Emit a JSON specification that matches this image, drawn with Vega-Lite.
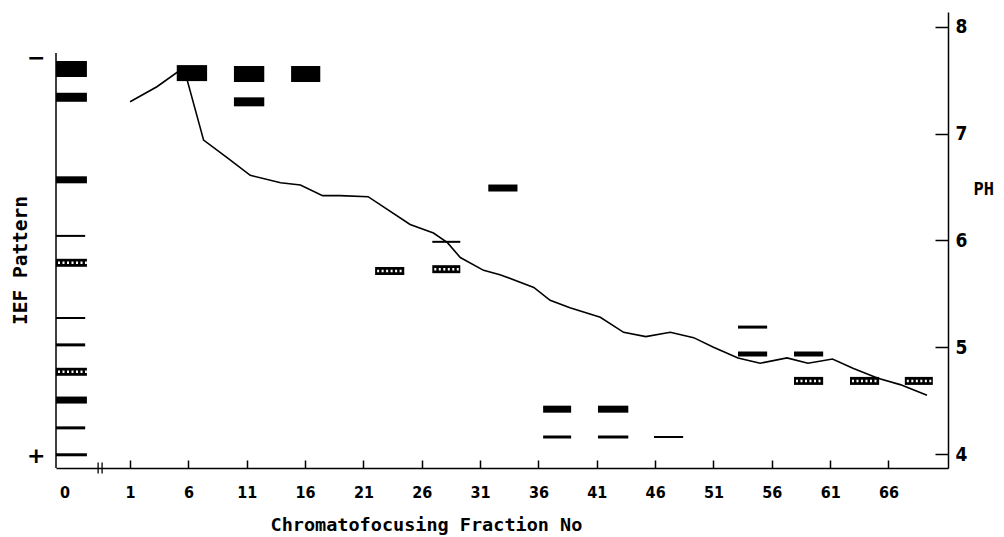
{
  "$schema": "https://vega.github.io/schema/vega-lite/v6.json",
  "width": 892,
  "height": 456,
  "autosize": {"type": "none"},
  "padding": {"left": 56, "top": 12, "right": 56, "bottom": 69},
  "background": "white",
  "config": {
    "view": {"stroke": null},
    "axis": {"domainColor": "black", "tickColor": "black", "labelColor": "black", "titleColor": "black", "grid": false, "domainWidth": 1.5, "tickWidth": 1.5},
    "axisX": {
      "tickSize": -8,
      "labelPadding": 24,
      "labelFont": "Liberation Sans Narrow, DejaVu Sans Condensed, sans-serif",
      "labelFontSize": 16,
      "labelFontWeight": "bold",
      "labelFlush": false,
      "labelOverlap": false,
      "labelBound": false,
      "titleFont": "DejaVu Sans Mono",
      "titleFontSize": 18.5,
      "titleFontWeight": "bold",
      "titleAnchor": "start",
      "titleAlign": "left",
      "titleX": 214,
      "titleY": 62,
      "titleBaseline": "alphabetic"
    }
  },
  "datasets": {
    "ph": [
      {"fraction": 1, "pH": 7.3}, {"fraction": 3.3, "pH": 7.44}, {"fraction": 5.6, "pH": 7.62}, {"fraction": 7.3, "pH": 6.94},
      {"fraction": 9.4, "pH": 6.77}, {"fraction": 11.3, "pH": 6.61}, {"fraction": 13.9, "pH": 6.54}, {"fraction": 15.6, "pH": 6.52},
      {"fraction": 17.5, "pH": 6.42}, {"fraction": 19, "pH": 6.42}, {"fraction": 21.4, "pH": 6.41}, {"fraction": 25, "pH": 6.15},
      {"fraction": 27, "pH": 6.07}, {"fraction": 28.2, "pH": 5.98}, {"fraction": 29.3, "pH": 5.84}, {"fraction": 31.3, "pH": 5.72},
      {"fraction": 32.7, "pH": 5.68}, {"fraction": 35.6, "pH": 5.56}, {"fraction": 37, "pH": 5.44}, {"fraction": 38.7, "pH": 5.37},
      {"fraction": 41.3, "pH": 5.28}, {"fraction": 43.3, "pH": 5.14}, {"fraction": 45.2, "pH": 5.1}, {"fraction": 47.3, "pH": 5.14},
      {"fraction": 49.3, "pH": 5.09}, {"fraction": 51, "pH": 5.0}, {"fraction": 53.1, "pH": 4.9}, {"fraction": 55, "pH": 4.85},
      {"fraction": 57.3, "pH": 4.9}, {"fraction": 59.1, "pH": 4.85}, {"fraction": 61.2, "pH": 4.89}, {"fraction": 63, "pH": 4.8},
      {"fraction": 65.1, "pH": 4.71}, {"fraction": 67, "pH": 4.65}, {"fraction": 69.3, "pH": 4.55}
    ],
    "bands": [
      {"fraction_start": -5.35, "fraction_end": -2.7, "gel_position": 87.5, "band": "heavy"},
      {"fraction_start": -5.35, "fraction_end": -2.7, "gel_position": 81.3, "band": "strong"},
      {"fraction_start": -5.35, "fraction_end": -2.7, "gel_position": 63.2, "band": "medium"},
      {"fraction_start": -5.35, "fraction_end": -2.85, "gel_position": 50.9, "band": "trace"},
      {"fraction_start": -5.35, "fraction_end": -2.7, "gel_position": 45.0, "band": "hatched"},
      {"fraction_start": -5.35, "fraction_end": -2.85, "gel_position": 32.9, "band": "trace"},
      {"fraction_start": -5.35, "fraction_end": -2.85, "gel_position": 27.0, "band": "faint"},
      {"fraction_start": -5.35, "fraction_end": -2.7, "gel_position": 21.1, "band": "hatched"},
      {"fraction_start": -5.35, "fraction_end": -2.7, "gel_position": 14.9, "band": "medium"},
      {"fraction_start": -5.35, "fraction_end": -2.85, "gel_position": 8.8, "band": "faint"},
      {"fraction_start": -5.35, "fraction_end": -2.7, "gel_position": 2.9, "band": "faint"},
      {"fraction_start": 5.0, "fraction_end": 7.6, "gel_position": 86.6, "band": "heavy"},
      {"fraction_start": 9.9, "fraction_end": 12.5, "gel_position": 86.4, "band": "heavy"},
      {"fraction_start": 9.9, "fraction_end": 12.5, "gel_position": 80.3, "band": "strong"},
      {"fraction_start": 14.8, "fraction_end": 17.3, "gel_position": 86.4, "band": "heavy"},
      {"fraction_start": 22.0, "fraction_end": 24.5, "gel_position": 43.2, "band": "hatched"},
      {"fraction_start": 26.9, "fraction_end": 29.3, "gel_position": 49.6, "band": "trace"},
      {"fraction_start": 26.9, "fraction_end": 29.3, "gel_position": 43.6, "band": "hatched"},
      {"fraction_start": 31.7, "fraction_end": 34.2, "gel_position": 61.4, "band": "medium"},
      {"fraction_start": 36.4, "fraction_end": 38.8, "gel_position": 12.9, "band": "medium"},
      {"fraction_start": 36.4, "fraction_end": 38.8, "gel_position": 6.8, "band": "faint"},
      {"fraction_start": 41.1, "fraction_end": 43.7, "gel_position": 12.9, "band": "medium"},
      {"fraction_start": 41.1, "fraction_end": 43.7, "gel_position": 6.8, "band": "faint"},
      {"fraction_start": 45.9, "fraction_end": 48.4, "gel_position": 6.8, "band": "trace"},
      {"fraction_start": 53.1, "fraction_end": 55.6, "gel_position": 30.9, "band": "faint"},
      {"fraction_start": 53.1, "fraction_end": 55.6, "gel_position": 25.0, "band": "narrow"},
      {"fraction_start": 57.9, "fraction_end": 60.4, "gel_position": 25.0, "band": "narrow"},
      {"fraction_start": 57.9, "fraction_end": 60.4, "gel_position": 19.1, "band": "hatched"},
      {"fraction_start": 62.7, "fraction_end": 65.2, "gel_position": 19.1, "band": "hatched"},
      {"fraction_start": 67.4, "fraction_end": 69.8, "gel_position": 19.1, "band": "hatched"}
    ],
    "axis_break": [{"fraction": -1.74}, {"fraction": -1.4}]
  },
  "layer": [
    {
      "data": {"name": "ph"},
      "mark": {"type": "line", "color": "black", "strokeWidth": 1.6},
      "encoding": {
        "x": {
          "field": "fraction", "type": "quantitative",
          "scale": {"domain": [-5.35, 71.1], "nice": false, "zero": false},
          "axis": {
            "title": "Chromatofocusing Fraction No",
            "values": [-4.62, 1, 6, 11, 16, 21, 26, 31, 36, 41, 46, 51, 56, 61, 66],
            "labelExpr": "datum.value < 0 ? '0' : datum.label",
            "tickColor": {"condition": {"test": "datum.value < 0", "value": "transparent"}, "value": "black"}
          }
        },
        "y": {
          "field": "pH", "type": "quantitative",
          "scale": {"domain": [3.869, 8.14], "nice": false, "zero": false},
          "axis": {
            "orient": "right",
            "values": [4, 5, 6, 7, 8],
            "tickSize": -13,
            "labelPadding": 20,
            "labelFont": "Liberation Sans Narrow, DejaVu Sans Condensed, sans-serif",
            "labelFontSize": 19,
            "labelFontWeight": "bold",
            "labelBaseline": "middle",
            "labelFlush": false,
            "title": "PH",
            "titleAngle": 0,
            "titleX": 25,
            "titleY": 177,
            "titleAlign": "left",
            "titleBaseline": "middle",
            "titleFont": "DejaVu Sans Mono",
            "titleFontSize": 17,
            "titleFontWeight": "bold"
          }
        }
      }
    },
    {
      "layer": [
        {
          "data": {"values": [{"fraction": -5.35}]},
          "mark": {"type": "rule", "color": "black", "strokeWidth": 1.5},
          "encoding": {
            "x": {
              "field": "fraction", "type": "quantitative",
              "axis": {
                "title": "Chromatofocusing Fraction No",
                "values": [-4.62, 1, 6, 11, 16, 21, 26, 31, 36, 41, 46, 51, 56, 61, 66],
                "labelExpr": "datum.value < 0 ? '0' : datum.label",
                "tickColor": {"condition": {"test": "datum.value < 0", "value": "transparent"}, "value": "black"}
              }
            },
            "y": {"datum": 0, "type": "quantitative"},
            "y2": {"datum": 91}
          }
        },
        {
          "data": {"name": "axis_break"},
          "mark": {"type": "rule", "color": "black", "strokeWidth": 1.3},
          "encoding": {
            "x": {
              "field": "fraction", "type": "quantitative",
              "axis": {
                "title": "Chromatofocusing Fraction No",
                "values": [-4.62, 1, 6, 11, 16, 21, 26, 31, 36, 41, 46, 51, 56, 61, 66],
                "labelExpr": "datum.value < 0 ? '0' : datum.label",
                "tickColor": {"condition": {"test": "datum.value < 0", "value": "transparent"}, "value": "black"}
              }
            },
            "y": {"datum": -1.2, "type": "quantitative"},
            "y2": {"datum": 1.2}
          }
        },
        {
          "data": {"name": "bands"},
          "mark": {"type": "rule", "color": "black", "strokeCap": "butt"},
          "encoding": {
            "x": {
              "field": "fraction_start", "type": "quantitative",
              "axis": {
                "title": "Chromatofocusing Fraction No",
                "values": [-4.62, 1, 6, 11, 16, 21, 26, 31, 36, 41, 46, 51, 56, 61, 66],
                "labelExpr": "datum.value < 0 ? '0' : datum.label",
                "tickColor": {"condition": {"test": "datum.value < 0", "value": "transparent"}, "value": "black"}
              }
            },
            "x2": {"field": "fraction_end"},
            "y": {
              "field": "gel_position", "type": "quantitative",
              "scale": {"domain": [0, 100], "nice": false, "zero": false},
              "axis": {
                "orient": "left",
                "values": [90.1, 2.85],
                "labelExpr": "datum.value > 50 ? '−' : '+'",
                "ticks": false,
                "domain": false,
                "labelPadding": 11,
                "labelFont": "DejaVu Sans",
                "labelFontSize": 22,
                "labelFontWeight": "bold",
                "labelBaseline": "middle",
                "labelFlush": false,
                "labelOverlap": false,
                "title": "IEF  Pattern",
                "titleFont": "DejaVu Sans Mono",
                "titleFontSize": 19.5,
                "titleFontWeight": "bold",
                "titleAngle": -90,
                "titleX": -36,
                "titleY": 248,
                "titleAlign": "center",
                "titleBaseline": "middle"
              }
            },
            "strokeWidth": {
              "field": "band", "type": "nominal",
              "scale": {"type": "ordinal", "domain": ["heavy", "strong", "medium", "narrow", "faint", "trace", "hatched"], "range": [16, 9, 7, 5, 3, 2, 8]},
              "legend": null
            }
          }
        },
        {
          "data": {"name": "bands"},
          "transform": [{"filter": "datum.band === 'hatched'"}],
          "mark": {"type": "rule", "color": "white", "strokeCap": "butt", "strokeWidth": 2.5, "strokeDash": [2, 2.5], "strokeDashOffset": -2},
          "encoding": {
            "x": {
              "field": "fraction_start", "type": "quantitative",
              "axis": {
                "title": "Chromatofocusing Fraction No",
                "values": [-4.62, 1, 6, 11, 16, 21, 26, 31, 36, 41, 46, 51, 56, 61, 66],
                "labelExpr": "datum.value < 0 ? '0' : datum.label",
                "tickColor": {"condition": {"test": "datum.value < 0", "value": "transparent"}, "value": "black"}
              }
            },
            "x2": {"field": "fraction_end"},
            "y": {"field": "gel_position", "type": "quantitative"}
          }
        }
      ]
    }
  ],
  "resolve": {"scale": {"y": "independent"}, "axis": {"y": "independent"}}
}
